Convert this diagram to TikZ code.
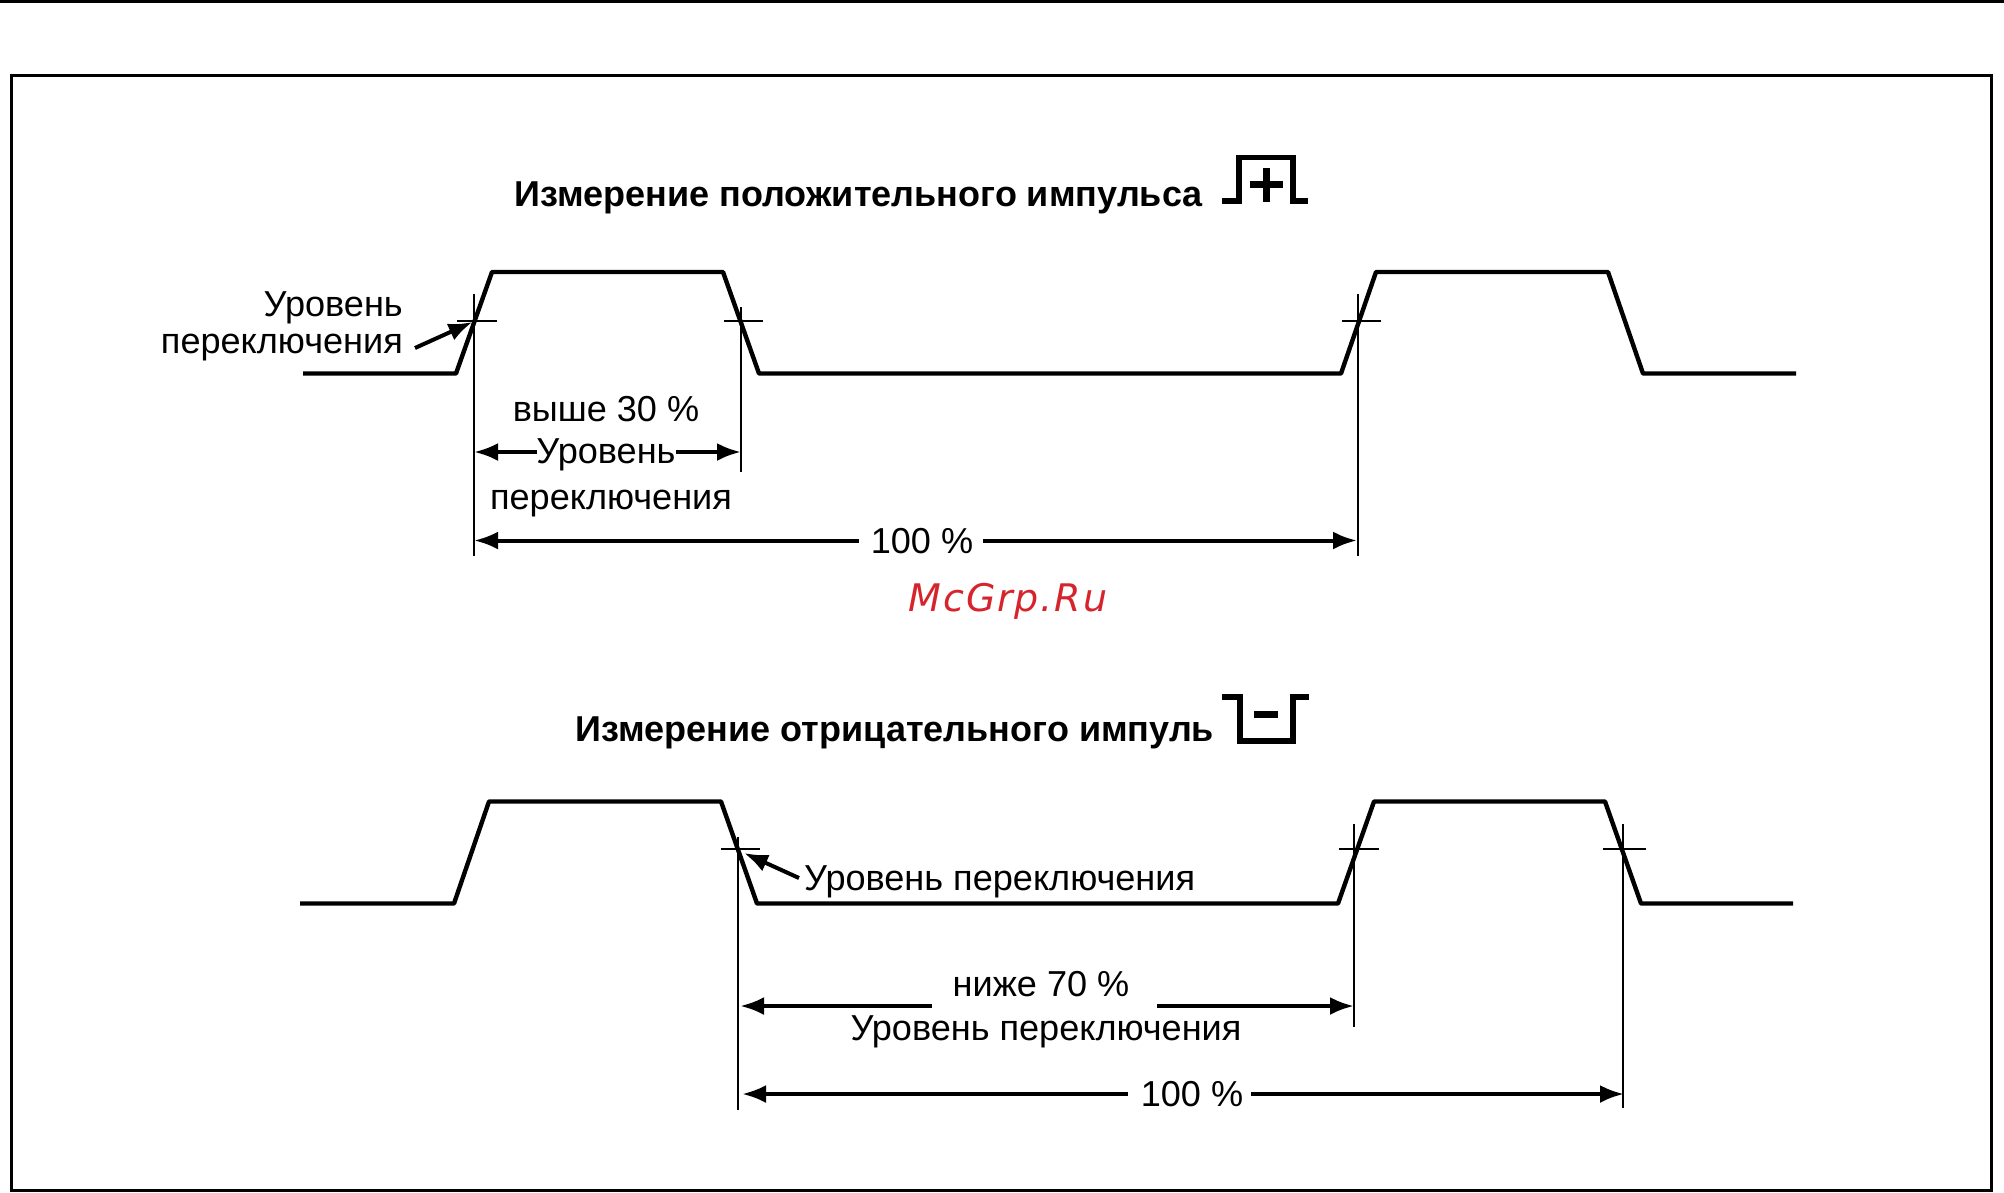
\documentclass[tikz,border=0pt]{standalone}
\usepackage{fontspec}
\setmainfont{Liberation Sans}
\newfontfamily\markfont[LetterSpace=5]{DejaVu Sans}
\usetikzlibrary{arrows.meta}
\definecolor{markred}{RGB}{214,36,44}

\tikzset{
  frameline/.style={line width=3pt, black},
  waveline/.style={line width=4.4pt, black, line join=round},
  tickline/.style={line width=2pt, black},
  dimline/.style={line width=4pt, black, -{Latex[length=24pt,width=18pt]}},
  iconline/.style={line width=5.6pt, black},
  label/.style={anchor=base, font=\fontsize{36.1}{36}\selectfont, inner sep=0pt},
  titlelabel/.style={anchor=base west, font=\fontsize{36}{36}\selectfont\bfseries, inner sep=0pt},
}

\begin{document}
\begin{tikzpicture}[x=1pt, y=-1pt]
\useasboundingbox (0,0) rectangle (2004,1192);

\draw[frameline] (0,1.5) -- (2004,1.5);
\draw[frameline] (11.5,75.5) rectangle (1991.5,1190.5);

% верхний график
\node[titlelabel] (titleplus) at (514,206) {Измерение положительного импульса};
\draw[iconline] (1222,201) -- (1239,201) -- (1239,157.5) -- (1293,157.5) -- (1293,201) -- (1308,201);
\draw[line width=7pt] (1250,184) -- (1283,184);
\draw[line width=7pt] (1266,168) -- (1266,202);

\draw[waveline] (303,373.5) -- (456,373.5) -- (492,272) -- (723,272) -- (759,373.5) -- (1341,373.5) -- (1376,272) -- (1608,272) -- (1643,373.5) -- (1796,373.5);

\coordinate (rise1) at (472.5,322);
\draw[tickline] (457,321) -- (497,321);
\draw[tickline] (723.5,321) -- (763,321);
\draw[tickline] (1342,321) -- (1381,321);
\draw[tickline] (473.5,294) -- (473.5,556);
\draw[tickline] (740.5,307) -- (740.5,472);
\draw[tickline] (1357.5,294) -- (1357.5,556);

\node[label, anchor=base east] (levelA) at (403,316) {Уровень};
\node[label, anchor=base east] (switchA) at (403,353) {переключения};
\draw[line width=4pt, -{Latex[length=24pt,width=18pt]}] (415,348) -- (rise1);

\node[label] (above30) at (606,421) {выше 30 \%};
\node[label] (levelB) at (606,463) {Уровень};
\node[label] (switchB) at (611,509) {переключения};
\draw[dimline] (537,452) -- (474,452);
\draw[dimline] (676,452) -- (741,452);

\node[label] (fullA) at (922,553) {100 \%};
\draw[dimline] (859,540.5) -- (474,540.5);
\draw[dimline] (983,540.5) -- (1357,540.5);

\node[font=\markfont\itshape\fontsize{38}{38}\selectfont, text=markred, inner sep=0pt] (mark) at (1008,601) {McGrp.Ru};

% нижний график
\node[titlelabel] (titleminus) at (575,741) {Измерение отрицательного импуль};
\draw[iconline] (1222,697) -- (1240,697) -- (1240,741) -- (1293,741) -- (1293,697) -- (1309,697);
\draw[line width=7pt] (1254,714) -- (1278,714);

\draw[waveline] (300,903.5) -- (454,903.5) -- (489,801.5) -- (721,801.5) -- (757,903.5) -- (1338,903.5) -- (1374,801.5) -- (1605,801.5) -- (1641,903.5) -- (1793,903.5);

\coordinate (fall3) at (744,853);
\draw[tickline] (721,849) -- (760,849);
\draw[tickline] (1339,849) -- (1379,849);
\draw[tickline] (1603,849) -- (1646,849);
\draw[tickline] (737.5,837) -- (737.5,1110);
\draw[tickline] (1354,824) -- (1354,1027);
\draw[tickline] (1623,824) -- (1623,1108);

\node[label, anchor=base west] (levelC) at (804,890) {Уровень переключения};
\draw[line width=4pt, -{Latex[length=24pt,width=18pt]}] (799,878) -- (fall3);

\node[label] (below70) at (1041,996) {ниже 70 \%};
\draw[dimline] (932,1006) -- (740,1006);
\draw[dimline] (1157,1006) -- (1354,1006);
\node[label] (levelD) at (1046,1040) {Уровень переключения};

\node[label] (fullB) at (1192,1106) {100 \%};
\draw[dimline] (1128,1094) -- (742,1094);
\draw[dimline] (1251,1094) -- (1624,1094);

\end{tikzpicture}
\end{document}
